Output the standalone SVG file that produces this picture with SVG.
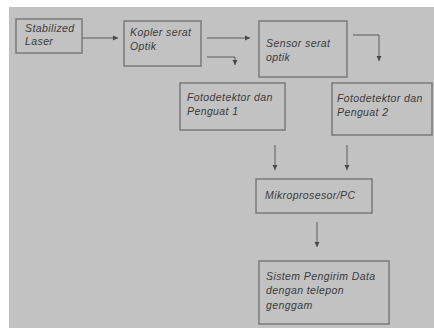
<svg xmlns="http://www.w3.org/2000/svg" width="434" height="328" viewBox="0 0 434 328">
<style>
.box{fill:none;stroke:#7a7a7a;stroke-width:1.5}
.t{font-family:"Liberation Sans",Arial,sans-serif;font-style:italic;font-size:10.5px;letter-spacing:0.4px;fill:#3a3a3a}
.c{fill:none;stroke:#5a5a5a;stroke-width:1}
</style>
<defs>
<marker id="ah" markerWidth="6" markerHeight="6" refX="5" refY="3" orient="auto" markerUnits="userSpaceOnUse">
<path d="M0,0.5 L5,3 L0,5.5 Z" fill="#4a4a4a"/>
</marker>
</defs>
<rect width="434" height="328" fill="#ffffff"/>
<rect x="9" y="7" width="425" height="321" fill="#c2c2c2"/>
<g id="connectors">
<path class="c" d="M82,38 H118" marker-end="url(#ah)"/>
<path class="c" d="M207,38 H250" marker-end="url(#ah)"/>
<path class="c" d="M207,57 H235 V65" marker-end="url(#ah)"/>
<path class="c" d="M353,35 H379 V61" marker-end="url(#ah)"/>
<path class="c" d="M275,145 V170" marker-end="url(#ah)"/>
<path class="c" d="M347,145 V170" marker-end="url(#ah)"/>
<path class="c" d="M317,222 V247" marker-end="url(#ah)"/>
</g>
<g id="laser">
<rect class="box" x="16" y="19" width="66" height="34"/>
<text class="t" x="25" y="32">Stabilized</text>
<text class="t" x="25" y="45">Laser</text>
</g>
<g id="kopler">
<rect class="box" x="124" y="21" width="77" height="45"/>
<text class="t" x="130" y="36">Kopler serat</text>
<text class="t" x="130" y="50">Optik</text>
</g>
<g id="sensor">
<rect class="box" x="259" y="21" width="88" height="56"/>
<text class="t" x="266" y="47">Sensor serat</text>
<text class="t" x="266" y="61">optik</text>
</g>
<g id="foto1">
<rect class="box" x="180" y="83" width="105" height="47"/>
<text class="t" x="187" y="101">Fotodetektor dan</text>
<text class="t" x="187" y="115">Penguat 1</text>
</g>
<g id="foto2">
<rect class="box" x="332" y="83" width="100" height="52"/>
<text class="t" x="337" y="102">Fotodetektor dan</text>
<text class="t" x="337" y="116">Penguat 2</text>
</g>
<g id="mikro">
<rect class="box" x="256" y="179" width="116" height="34"/>
<text class="t" x="265" y="199">Mikroprosesor/PC</text>
</g>
<g id="sistem">
<rect class="box" x="259" y="261" width="130" height="63"/>
<text class="t" x="266" y="280">Sistem Pengirim Data</text>
<text class="t" x="266" y="294">dengan telepon</text>
<text class="t" x="266" y="309">genggam</text>
</g>
</svg>
